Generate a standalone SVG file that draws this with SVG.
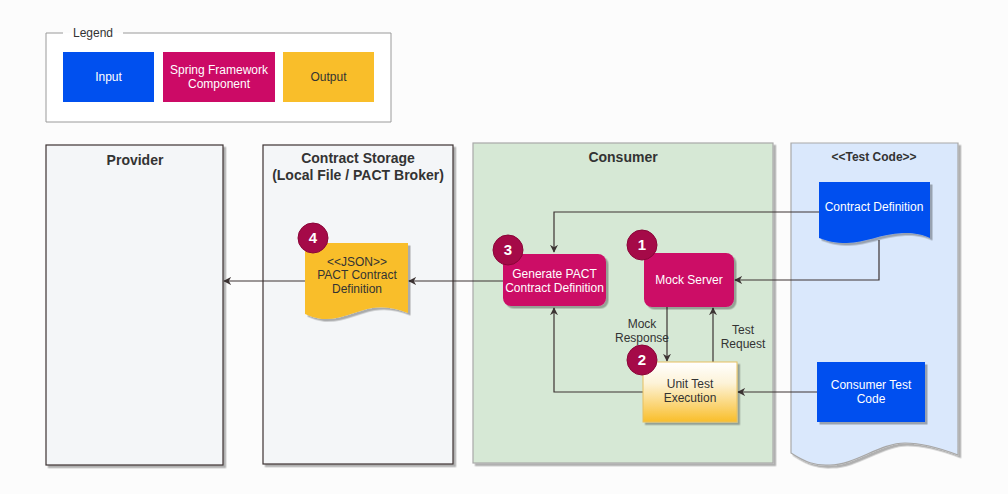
<svg xmlns="http://www.w3.org/2000/svg" width="1008" height="494" viewBox="0 0 1008 494">
<defs>
<style>
text{font-family:"Liberation Sans",Arial,Helvetica,sans-serif;}
.title{font-size:14px;font-weight:bold;fill:#333;text-anchor:middle;}
.lbl{font-size:12px;fill:#fff;text-anchor:middle;}
.dlbl{font-size:12px;fill:#333;text-anchor:middle;}
.badge circle{fill:#a50a48;stroke:#8a0538;stroke-width:1;}
.badge text{font-size:15px;font-weight:bold;fill:#fff;text-anchor:middle;}
.edge{fill:none;stroke:#3c3333;stroke-width:1.2;}
</style>
<filter id="sh" x="-10%" y="-10%" width="130%" height="130%">
<feDropShadow dx="2.5" dy="2.5" stdDeviation="0.6" flood-color="#000" flood-opacity="0.3"/>
</filter>
<marker id="arr" viewBox="0 0 10 10" refX="9" refY="5" markerWidth="8" markerHeight="8" markerUnits="userSpaceOnUse" orient="auto">
<path d="M0,0 L10,5 L0,10 L3,5 Z" fill="#3c3333"/>
</marker>
<linearGradient id="ug" x1="0" y1="0" x2="0" y2="1">
<stop offset="0" stop-color="#ffffff"/>
<stop offset="0.35" stop-color="#fdf3d8"/>
<stop offset="1" stop-color="#f9be2a"/>
</linearGradient>
</defs>
<rect width="1008" height="494" fill="#fcfcfc"/>

<g id="legend">
<path d="M63,33 H46 V122 H391 V33 H123" fill="#fff" stroke="#9a9a9a" stroke-width="1"/>
<text x="93" y="37" style="font-size:12px;fill:#333;text-anchor:middle">Legend</text>
<rect x="63" y="52" width="91" height="50" fill="#0050ef"/>
<text class="lbl" x="108.5" y="81">Input</text>
<rect x="163" y="52" width="112" height="50" fill="#cc0a66"/>
<text class="lbl" x="219" y="74">Spring Framework</text>
<text class="lbl" x="219" y="88">Component</text>
<rect x="283" y="52" width="91" height="50" fill="#f9be2a"/>
<text class="dlbl" x="328.5" y="81">Output</text>
</g>

<g id="provider">
<rect x="46" y="145" width="177" height="320" fill="#f4f6f8" stroke="#3c3333" stroke-width="1.2" filter="url(#sh)"/>
<text class="title" x="135" y="165">Provider</text>
</g>

<g id="contract-storage">
<rect x="263" y="145" width="190" height="319" fill="#f4f6f8" stroke="#3c3333" stroke-width="1.2" filter="url(#sh)"/>
<text class="title" x="358" y="163">Contract Storage</text>
<text class="title" x="358" y="180">(Local File / PACT Broker)</text>
</g>

<g id="consumer">
<rect x="473" y="143" width="300" height="320" fill="#d6e8d5" stroke="#a8a8a8" stroke-width="1.2" filter="url(#sh)"/>
<text class="title" x="623" y="162">Consumer</text>
</g>

<g id="test-code">
<path d="M791,143 H958 V455 C945,450 925,443 905,443 C880,443 855,465 830,465 C815,466 805,462 791,453 Z" fill="#dae8fc" stroke="#a8a8a8" stroke-width="1.2" filter="url(#sh)"/>
<text class="title" x="874" y="161" style="font-size:12px">&lt;&lt;Test Code&gt;&gt;</text>
</g>

<g id="connectors">
<path class="edge" d="M819,212 H554 V252" marker-end="url(#arr)"/>
<path class="edge" d="M879,240 V280 H735" marker-end="url(#arr)"/>
<path class="edge" d="M667,307 V361" marker-end="url(#arr)"/>
<path class="edge" d="M713,362 V308" marker-end="url(#arr)"/>
<path class="edge" d="M643,392 H554 V308" marker-end="url(#arr)"/>
<path class="edge" d="M817,392 H738" marker-end="url(#arr)"/>
<path class="edge" d="M503,281 H409" marker-end="url(#arr)"/>
<path class="edge" d="M305,281 H224" marker-end="url(#arr)"/>
<text class="dlbl" x="642" y="328">Mock</text>
<text class="dlbl" x="642" y="342">Response</text>
<text class="dlbl" x="743" y="334">Test</text>
<text class="dlbl" x="743" y="348">Request</text>
</g>

<g id="contract-definition">
<path d="M819,182 H930 V238 C918,233 912,233 903,233 C880,234 865,243 847,243 C835,243 827,241 819,238 Z" fill="#0050ef" filter="url(#sh)"/>
<text class="lbl" x="874" y="211">Contract Definition</text>
</g>

<g id="json-contract">
<path d="M305,243 H408 V313 C395,308 385,306 372,308 C355,311 342,320 322,319 C315,318 310,316 305,314 Z" fill="#f9be2a" filter="url(#sh)"/>
<text class="dlbl" x="357" y="266">&lt;&lt;JSON&gt;&gt;</text>
<text class="dlbl" x="357" y="279">PACT Contract</text>
<text class="dlbl" x="357" y="293">Definition</text>
</g>

<g id="generate-pact">
<rect x="503" y="254" width="103" height="52" rx="8" fill="#cc0a66" filter="url(#sh)"/>
<text class="lbl" x="554.5" y="278">Generate PACT</text>
<text class="lbl" x="554.5" y="292">Contract Definition</text>
</g>

<g id="mock-server">
<rect x="644" y="253" width="90" height="54" rx="8" fill="#cc0a66" filter="url(#sh)"/>
<text class="lbl" x="689" y="284">Mock Server</text>
</g>

<g id="unit-test">
<rect x="643" y="362" width="94" height="60" fill="url(#ug)" stroke="#e8c060" stroke-width="1" filter="url(#sh)"/>
<text class="dlbl" x="690" y="388">Unit Test</text>
<text class="dlbl" x="690" y="402">Execution</text>
</g>

<g id="consumer-test-code">
<rect x="817" y="362" width="108" height="60" fill="#0050ef" filter="url(#sh)"/>
<text class="lbl" x="871" y="389">Consumer Test</text>
<text class="lbl" x="871" y="403">Code</text>
</g>

<g id="badge-1" class="badge"><circle cx="642" cy="245" r="15"/><text x="642" y="250">1</text></g>
<g id="badge-2" class="badge"><circle cx="642" cy="360" r="15"/><text x="642" y="365">2</text></g>
<g id="badge-3" class="badge"><circle cx="508" cy="250" r="15"/><text x="508" y="255">3</text></g>
<g id="badge-4" class="badge"><circle cx="313" cy="238" r="15"/><text x="313" y="243">4</text></g>
</svg>
